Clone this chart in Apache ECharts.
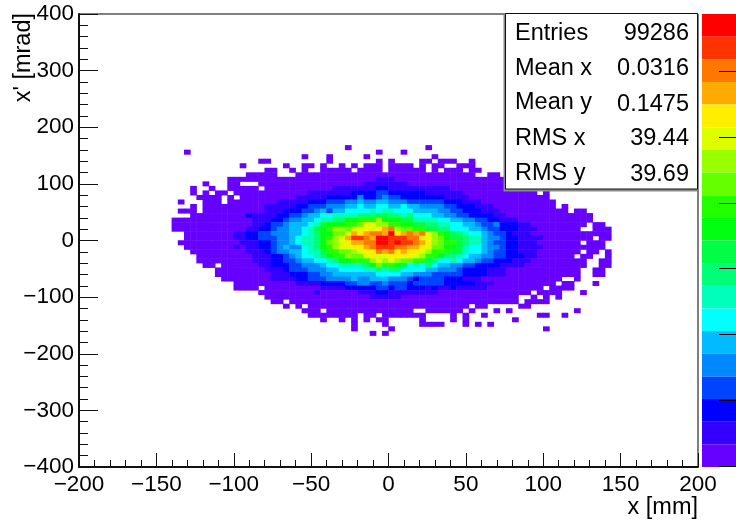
<!DOCTYPE html>
<html><head><meta charset="utf-8">
<style>html,body{margin:0;padding:0;background:#fff}#c{width:736px;height:522px}</style>
<script src="https://cdn.jsdelivr.net/npm/echarts@6/dist/echarts.min.js"></script>
</head><body><div id="c"></div>
<script>
// 20 colour levels of the palette, lowest first (letters a..t in the rows below)
const palette = ['#6600ff','#3300ff','#0000ff','#0044ff','#0088ff','#00bbff','#00ffff','#00ffbb','#00ff77','#00ff44',
                 '#00ff11','#22ff00','#66ff00','#99ff00','#ddff00','#ffee00','#ffaa00','#ff7700','#ff3300','#ff0000'];
const levelStep = 6.88;      // counts per colour level
const zMax = 137.6;
const zTicks = [0,20,40,60,80,100,120];
const xBins = 100, yBins = 100;
const firstRow = 29;         // top-most filled row, counted from the top of the plot
// Each row, top to bottom: letter = colour level, number = bin where that level starts, "." = empty
const rowRuns = [
"a43 .44 a56 .57",
"a17 .18 a48 .49 a52 .53",
"a36 .37 a40 .41 a46 .47 a57 .58",
"a29 .31 a40 .41 a48 .49 a50 .51 a55 .57 a58 .61 a63 .64",
"a26 .27 a33 .34 a36 .38 a39 .40 a42 .43 a44 .45 a46 .49 a50 .54 a55 .56 a57 .59 a61 .64",
"a30 .32 a34 .35 a36 .37 a39 .44 a45 .49 a50 .56 a57 .58 a59 .62 a63 .65",
"a27 .32 a35 .64 a66 .68",
"a24 b48 a51 .70",
"a20 .21 a24 .26 a29 b46 a53 .69",
"a18 .19 a21 .22 a24 .29 a30 b41 c48 b50 a60 .69",
"a18 .19 a20 .21 a22 .24 a25 b37 c44 d48 c50 b56 a62 .74 a75 .76",
"a19 .23 a24 .25 a26 b35 c40 e45 c46 d48 e49 d50 c52 b59 a63 .76",
"a16 .17 a20 .23 a24 b32 c37 d40 e43 f45 e46 f48 e50 d53 c59 b62 a65 .77",
"a18 .19 a20 b30 c35 d37 e40 f43 g45 f46 g48 f50 g52 f53 e55 d59 c61 b64 a67 .77 a78 .79",
"a16 .19 a20 b30 c33 d36 e38 f39 d40 f41 g43 h47 g48 h49 g51 f54 e58 d60 c62 b65 a68 .79 a80 .82",
"a18 c27 b28 c32 d34 e36 f37 g39 h41 i45 j48 i50 h52 i53 g54 f57 e59 d61 c63 b67 a69 .83",
"a15 b28 c31 d33 e34 f36 g38 h39 i41 k43 l45 n48 k49 j52 h54 g58 f60 e62 d64 c66 b68 a71 .83",
"a15 b28 c30 d31 e33 f34 g37 h38 j39 k40 l43 m45 o46 n48 l50 k52 j54 i56 h58 g60 f62 e64 d65 e67 c68 b71 a73 .82 a83 .85",
"a15 b27 c29 d31 e32 f34 g36 h37 j38 k39 l40 n41 m43 o44 p46 o47 p48 q49 r50 n51 m52 l54 j56 i58 g60 f63 e65 d66 c68 b71 a74 .81 a83 .86",
"a17 b25 c27 d29 e31 f34 g36 h37 i38 k39 m41 o43 q44 p45 q46 r47 q49 t50 p51 q52 r53 q54 r55 o56 n57 l58 k59 j60 i61 h62 g63 f65 e66 d67 c69 b70 a73 .86",
"a17 b25 c27 d29 e32 f34 g35 h36 i38 k39 l40 n41 o42 q43 s44 r46 q47 t48 s50 r53 p55 o56 n57 m58 k59 j60 i62 h63 f65 e66 d68 c69 b71 a75 .83 a84 .86",
"a16 b26 c29 d31 e32 f34 g35 h36 i38 k39 m40 n41 o42 p43 q44 r46 t48 s50 t51 s52 r54 q55 p56 n57 m58 l59 j61 i62 h63 f65 e66 d67 c69 b71 a74 .81 a82 .85",
"a17 b25 a26 b27 c29 d31 e32 f33 e34 g36 h37 i38 k39 l40 n41 o42 p44 q46 r47 s48 r51 q53 p55 o56 m57 k59 j61 h62 g63 f65 e66 d68 c69 b71 a75 .85",
"a18 b27 c30 d31 e32 f34 g36 h37 j39 l40 m42 n44 o45 p46 r48 q49 r50 p51 q52 p53 o55 n56 l57 j60 h62 g63 f65 e66 d67 c69 b71 a74 .81 a82 .84 a85 .86",
"a19 b28 c31 d33 e34 f35 g36 h38 i39 k40 l41 n43 m44 o46 p47 o48 p50 o54 n55 l56 k58 i59 h61 g62 f63 e65 d67 c69 b72 a74 .80 a81 .83 a85 .86",
"a19 b28 c31 d33 e35 f36 g38 h40 i41 k42 l44 n47 o48 n49 o50 n51 m52 l54 j56 i57 g58 h60 g61 f62 e64 d65 c67 b70 a73 .82 a84 .86",
"a20 .22 a23 b29 c31 d34 e36 f39 g40 h42 i46 k47 m48 l49 k51 j52 g53 h54 g55 i56 g57 f58 e60 d62 c64 b68 a72 .82 a84 .86",
"a22 b30 c33 d34 e37 f40 g42 h46 i48 h49 i50 g52 f56 e58 d61 c62 b66 a69 .81 a83 .85",
"a22 b31 c34 d37 e39 f41 g48 f52 e54 d57 c62 b66 a69 .81 a83 .85",
"a23 b31 c35 d37 e40 f44 e45 f47 e50 d53 c54 d55 c59 b62 a65 .78 a80 .81",
"a25 b35 c39 d43 e45 d47 e49 d50 c53 d54 c59 b64 a67 .77 a78 .80 a83 .84",
"a25 .29 a30 b39 c43 d48 c50 d51 c53 b56 c57 b58 c60 b61 a66 .75 a76 .80",
"a29 b38 a39 b45 c48 b50 a58 .73 a74 .78 a81 .82",
"a30 b47 a52 .71 a73 .74 a75 .76 a77 .78",
"a31 .33 a34 .71 a72 .76",
"a33 .34 a35 .36 a37 .63 a64 .66 a71 .73",
"a36 .39 a40 .54 a56 .62 a63 .64 a67 .68 a69 .70 a80 .81",
"a37 .45 a46 .48 a49 .56 a60 .61 a62 .63 a65 .66 a74 .76 a78 .79",
"a39 .40 a42 .43 a44 .45 a46 .47 a48 .50 a55 .56 a60 .61 a62 .63 a70 .71",
"a44 .45 a49 .50 a55 .59 a62 .63 a64 .65 a66 .67",
"a44 .45 a50 .51 a75 .76",
"a47 .48 a49 .50"
];
const statNames  = ['Entries','Mean x','Mean y','RMS x','RMS y'];
const statValues = ['99286','0.0316','0.1475','39.44','39.69'];
const xTitle = 'x [mm]', yTitle = "x' [mrad]";

const FONT = '"Liberation Sans", Arial, sans-serif';
const cells = [];
rowRuns.forEach((line, i) => {
  const runs = line.split(' ').map(t => [t[0], +t.slice(1)]);
  runs.forEach((run, k) => {
    if (run[0] === '.' || k === runs.length - 1) return;
    const level = run[0].charCodeAt(0) - 97;
    for (let col = run[1]; col < runs[k + 1][1]; col++) {
      cells.push([col, yBins - 1 - (firstRow + i), +((level + 0.5) * levelStep).toFixed(1)]);
    }
  });
});
const pieces = palette.map((color, i) => ({gte: i * levelStep, lt: (i + 1) * levelStep, color}));
const catX = Array.from({length: xBins}, (_, i) => -200 + 4 * i + 2);
const catY = Array.from({length: yBins}, (_, i) => -400 + 8 * i + 4);
const minus = v => String(v).replace('-', '\u2212');
const G = {left: 79, right: 38, top: 14, bottom: 55};
const labelFont = {fontFamily: FONT, fontSize: 22.5, color: '#000'};

const statRowY = [34, 69, 103, 139, 174];
const valueRowY = [34, 69, 105, 139, 175];
const boxText = [];
statNames.forEach((t, i) => boxText.push({type: 'text', z: 103, x: 515, y: statRowY[i],
  style: {text: t, font: '23.5px ' + FONT, fill: '#000', align: 'left', verticalAlign: 'middle'}}));
statValues.forEach((t, i) => boxText.push({type: 'text', z: 103, x: 689, y: valueRowY[i],
  style: {text: t, font: '23.5px ' + FONT, fill: '#000', align: 'right', verticalAlign: 'middle'}}));

echarts.init(document.getElementById('c'), null, {renderer: 'canvas'}).setOption({
  animation: false,
  backgroundColor: '#fff',
  grid: [
    Object.assign({show: false}, G),
    Object.assign({show: true, borderColor: '#000', borderWidth: 1, backgroundColor: 'transparent', z: 5}, G),
    {left: 702, right: 0, top: 14, bottom: 55, show: false}
  ],
  xAxis: [
    {gridIndex: 0, type: 'category', data: catX, show: false},
    {gridIndex: 1, type: 'value', min: -200, max: 200, interval: 50, z: 6,
     axisLine: {show: true, onZero: false, lineStyle: {color: '#111', width: 2}},
     axisTick: {show: true, inside: true, length: 14, lineStyle: {color: '#111', width: 1}},
     minorTick: {show: true, splitNumber: 5, length: 7, lineStyle: {color: '#111', width: 1}},
     splitLine: {show: false}, minorSplitLine: {show: false},
     axisLabel: Object.assign({margin: 6, formatter: minus, hideOverlap: false, showMinLabel: true, showMaxLabel: true}, labelFont)},
    {gridIndex: 2, type: 'value', min: 0, max: 1, show: false}
  ],
  yAxis: [
    {gridIndex: 0, type: 'category', data: catY, show: false},
    {gridIndex: 1, type: 'value', min: -400, max: 400, interval: 100, z: 6,
     axisLine: {show: true, onZero: false, lineStyle: {color: '#111', width: 2}},
     axisTick: {show: true, inside: true, length: 19, lineStyle: {color: '#111', width: 1}},
     minorTick: {show: true, splitNumber: 5, length: 9, lineStyle: {color: '#111', width: 1}},
     splitLine: {show: false}, minorSplitLine: {show: false},
     axisLabel: Object.assign({margin: 5, formatter: minus, hideOverlap: false, showMinLabel: true, showMaxLabel: true}, labelFont)},
    {gridIndex: 2, type: 'value', min: 0, max: zMax, show: false}
  ],
  visualMap: {
    type: 'piecewise', seriesIndex: 0, dimension: 2, pieces, show: true, orient: 'vertical',
    left: 702, top: 14, padding: 0, itemGap: 0, itemWidth: 34, itemHeight: 453 / 20,
    showLabel: false, itemSymbol: 'rect', selectedMode: false, hoverLink: false, z: 1
  },
  series: [
    {type: 'heatmap', xAxisIndex: 0, yAxisIndex: 0, data: cells, silent: true, progressive: 0,
     itemStyle: {borderWidth: 0}, emphasis: {disabled: true}},
    // palette axis ticks, placed through the colour-scale axis of the third grid
    {type: 'custom', xAxisIndex: 1, yAxisIndex: 1, coordinateSystem: 'cartesian2d', silent: true, z: 20, clip: false,
     data: zTicks.map(v => [0.5, v]),
     encode: {x: 0, y: 1},
     renderItem: (params, api) => {
       const a = api.coord([api.value(0), api.value(1)]);
       const b = api.coord([1, api.value(1)]);
       const y = Math.round(a[1]) - 0.5;
       return {type: 'line', shape: {x1: a[0], y1: y, x2: b[0], y2: y}, style: {stroke: '#000', lineWidth: 1}};
     }}
  ].map((s, i) => i === 1 ? Object.assign(s, {xAxisIndex: 2, yAxisIndex: 2}) : s),
  graphic: [
    {type: 'rect', z: 100, shape: {x: 503.5, y: 14, width: 194, height: 177.5}, style: {fill: '#8a8a8a'}},
    {type: 'rect', z: 101, shape: {x: 505.5, y: 13.5, width: 192, height: 175.5}, style: {fill: '#fff', stroke: '#111', lineWidth: 1}},
    ...boxText,
    {type: 'text', z: 103, x: 698, y: 508, style: {text: xTitle, font: '23.5px ' + FONT, fill: '#000', align: 'right', verticalAlign: 'middle'}},
    {type: 'text', z: 103, x: 24, y: 13, rotation: Math.PI / 2, style: {text: yTitle, font: '23.5px ' + FONT, fill: '#000', align: 'right', verticalAlign: 'middle'}}
  ]
});
</script></body></html>
